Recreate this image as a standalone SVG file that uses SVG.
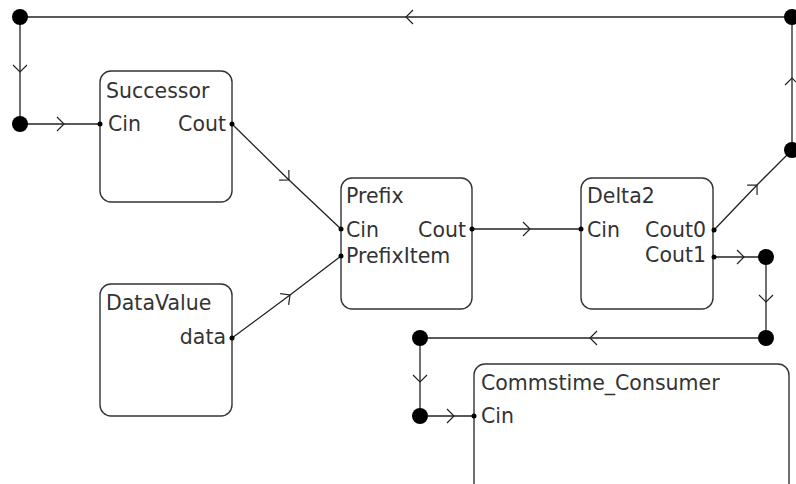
<svg xmlns="http://www.w3.org/2000/svg" width="796" height="484" viewBox="0 0 796 484">
<style>
.box{fill:#fff;stroke:#333;stroke-width:1.4}
.t{font-family:"DejaVu Sans",sans-serif;font-size:20.5px;fill:#333}
.r{text-anchor:end}
.w{fill:none;stroke:#222;stroke-width:1.3;marker-mid:url(#chev)}
.j{fill:#000}
.p{fill:#000}
</style>
<defs>
<marker id="chev" markerUnits="userSpaceOnUse" markerWidth="20" markerHeight="20" refX="0" refY="0" viewBox="-10 -10 20 20" orient="auto" overflow="visible">
<path d="M-7,-7 L0,0 L-7,7" fill="none" stroke="#222" stroke-width="1.2"/>
</marker>
</defs>
<rect width="796" height="484" fill="#fff"/>
<g id="connectors">
<path class="w" d="M792,17 L406,17 L20,17"/>
<path class="w" d="M20,17 L20,72 L20,124"/>
<path class="w" d="M20,124 L64,124 L100,124"/>
<path class="w" d="M232,124 L289,180 L341,229"/>
<path class="w" d="M232,338 L290,295 L341,256"/>
<path class="w" d="M472,229 L530,229 L580,229"/>
<path class="w" d="M714,230 L757,185 L792,150"/>
<path class="w" d="M792,150 L792,78 L792,17"/>
<path class="w" d="M714,257 L744,257 L766,257"/>
<path class="w" d="M766,257 L766,302 L766,338"/>
<path class="w" d="M766,338 L590,338 L420,338"/>
<path class="w" d="M420,338 L420,382 L420,416"/>
<path class="w" d="M420,416 L454,416 L474,416"/>
<circle class="j" cx="20" cy="17" r="8"/>
<circle class="j" cx="792" cy="17" r="8"/>
<circle class="j" cx="20" cy="124" r="8"/>
<circle class="j" cx="792" cy="150" r="8"/>
<circle class="j" cx="766" cy="257" r="8"/>
<circle class="j" cx="766" cy="338" r="8"/>
<circle class="j" cx="420" cy="338" r="8"/>
<circle class="j" cx="420" cy="416" r="8"/>
</g>
<g id="Successor">
<rect class="box" x="100" y="71" width="132" height="131" rx="11"/>
<text class="t" x="106" y="98">Successor</text>
<text class="t" x="108" y="131">Cin</text>
<text class="t r" x="226" y="131">Cout</text>
<circle class="p" cx="100" cy="124" r="2.5"/>
<circle class="p" cx="232" cy="124" r="2.5"/>
</g>
<g id="DataValue">
<rect class="box" x="100" y="284" width="132" height="132" rx="11"/>
<text class="t" x="106" y="310">DataValue</text>
<text class="t r" x="226" y="344">data</text>
<circle class="p" cx="232" cy="338" r="2.5"/>
</g>
<g id="Prefix">
<rect class="box" x="341" y="178" width="131" height="131" rx="11"/>
<text class="t" x="346" y="203">Prefix</text>
<text class="t" x="346" y="237">Cin</text>
<text class="t r" x="466" y="237">Cout</text>
<text class="t" x="346" y="263">PrefixItem</text>
<circle class="p" cx="341" cy="229" r="2.5"/>
<circle class="p" cx="341" cy="256" r="2.5"/>
<circle class="p" cx="472" cy="229" r="2.5"/>
</g>
<g id="Delta2">
<rect class="box" x="581" y="178" width="132" height="131" rx="11"/>
<text class="t" x="587" y="203">Delta2</text>
<text class="t" x="587" y="237">Cin</text>
<text class="t r" x="706" y="237">Cout0</text>
<text class="t r" x="706" y="262">Cout1</text>
<circle class="p" cx="581" cy="229" r="2.5"/>
<circle class="p" cx="714" cy="230" r="2.5"/>
<circle class="p" cx="714" cy="257" r="2.5"/>
</g>
<g id="Commstime_Consumer">
<rect class="box" x="474" y="364" width="315" height="140" rx="11"/>
<text class="t" x="481" y="390">Commstime_Consumer</text>
<text class="t" x="481" y="423">Cin</text>
<circle class="p" cx="474" cy="416" r="2.5"/>
</g>
</svg>
